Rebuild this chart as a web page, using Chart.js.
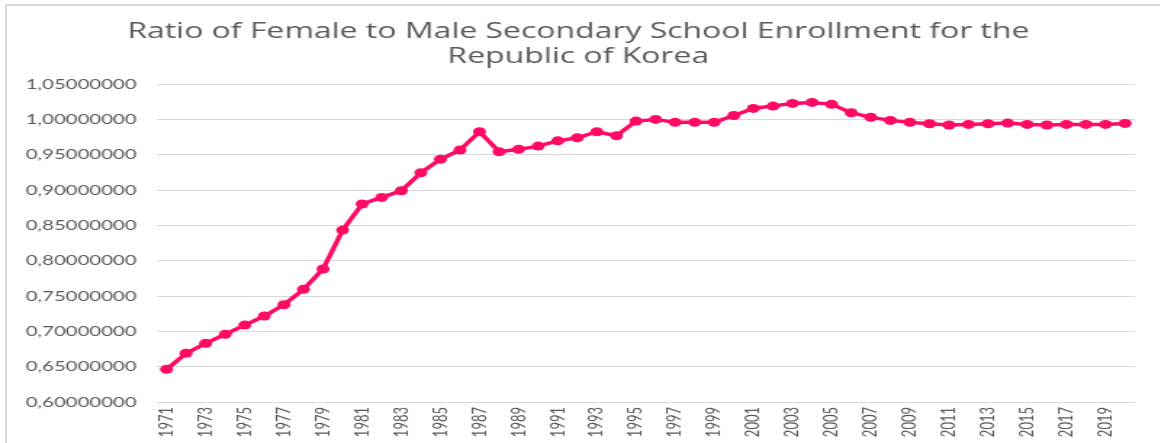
<!DOCTYPE html>
<html>
<head>
<meta charset="utf-8">
<title>Female to Male Secondary School Enrollment - Korea</title>
<script src="https://cdn.jsdelivr.net/npm/chart.js@4/dist/chart.umd.min.js"></script>
<style>
  html, body { margin: 0; padding: 0; background: #fff; overflow: hidden; }
  #wrap { position: relative; width: 1161px; height: 443px; }
  #frame {
    position: absolute; left: 5px; top: 4px; width: 1153px; height: 460px;
    border-top: 2px solid #d9d9d9; border-left: 2px solid #d9d9d9;
  }
  #chart { position: absolute; left: 0; top: 0; }
</style>
</head>
<body>
<div id="wrap">
  <div id="frame"></div>
  <!-- drawn 800 wide, shown 1161 wide -->
  <canvas id="chart" width="800" height="443" style="width:1161px;height:443px"></canvas>
</div>
<script>
var titleLines = ['Ratio of Female to Male Secondary School Enrollment for the', 'Republic of Korea'];

var years = ['1971','1972','1973','1974','1975','1976','1977','1978','1979','1980',
             '1981','1982','1983','1984','1985','1986','1987','1988','1989','1990',
             '1991','1992','1993','1994','1995','1996','1997','1998','1999','2000',
             '2001','2002','2003','2004','2005','2006','2007','2008','2009','2010',
             '2011','2012','2013','2014','2015','2016','2017','2018','2019','2020'];

var ratio = [0.6463, 0.6690, 0.6831, 0.6959, 0.7090, 0.7218, 0.7378, 0.7596, 0.7884, 0.8436,
             0.8805, 0.8899, 0.8993, 0.9248, 0.9438, 0.9570, 0.9829, 0.9545, 0.9580, 0.9626,
             0.9700, 0.9744, 0.9829, 0.9772, 0.9980, 1.0004, 0.9962, 0.9962, 0.9962, 1.0060,
             1.0160, 1.0193, 1.0231, 1.0245, 1.0217, 1.0098, 1.0033, 0.9990, 0.9962, 0.9942,
             0.9924, 0.9933, 0.9942, 0.9952, 0.9933, 0.9924, 0.9933, 0.9933, 0.9933, 0.9947];

var yMin = 0.60, yMax = 1.05, yStep = 0.05;

var pink = '#ff0a64';
var grey = '#595959';
var gridGrey = '#d9d9d9';

var ctx = document.getElementById('chart').getContext('2d');
var chart = new Chart(ctx, {
  type: 'line',
  data: {
    labels: years,
    datasets: [{
      label: 'Ratio',
      data: ratio,
      borderColor: pink,
      backgroundColor: pink,
      borderWidth: 3.5,
      pointRadius: 4.5,
      pointHoverRadius: 4.5,
      pointBorderWidth: 0,
      pointBackgroundColor: pink,
      tension: 0
    }]
  },
  options: {
    responsive: false,
    animation: false,
    devicePixelRatio: 1,
    layout: { padding: { left: 15, right: 18, top: 0, bottom: 0 } },
    plugins: {
      legend: { display: false },
      tooltip: { enabled: false },
      title: {
        display: true,
        text: titleLines,
        color: grey,
        font: { family: 'Open Sans', size: 22, weight: 'normal', lineHeight: 1.1 },
        padding: { top: 20, bottom: 16 }
      }
    },
    scales: {
      x: {
        offset: true,
        grid: { display: false, drawTicks: false },
        border: { display: false },
        ticks: {
          autoSkip: false,
          minRotation: 90,
          maxRotation: 90,
          padding: 5,
          color: grey,
          font: { family: 'Lato', size: 13 },
          callback: function(val, i) { return i % 2 === 0 ? years[i] : ''; }
        },
        afterFit: function(scale) { scale.height = 41; }
      },
      y: {
        min: yMin,
        max: yMax,
        grid: { color: gridGrey, lineWidth: 1, drawTicks: false },
        border: { display: false },
        ticks: {
          stepSize: yStep,
          padding: 14,
          color: grey,
          font: { family: 'Lato', size: 14 },
          callback: function(v) { return v.toFixed(8).replace('.', ','); }
        },
        // plot starts at x=108 of the canvas
        afterFit: function(scale) { scale.width = 93; }
      }
    }
  }
});
</script>
</body>
</html>
